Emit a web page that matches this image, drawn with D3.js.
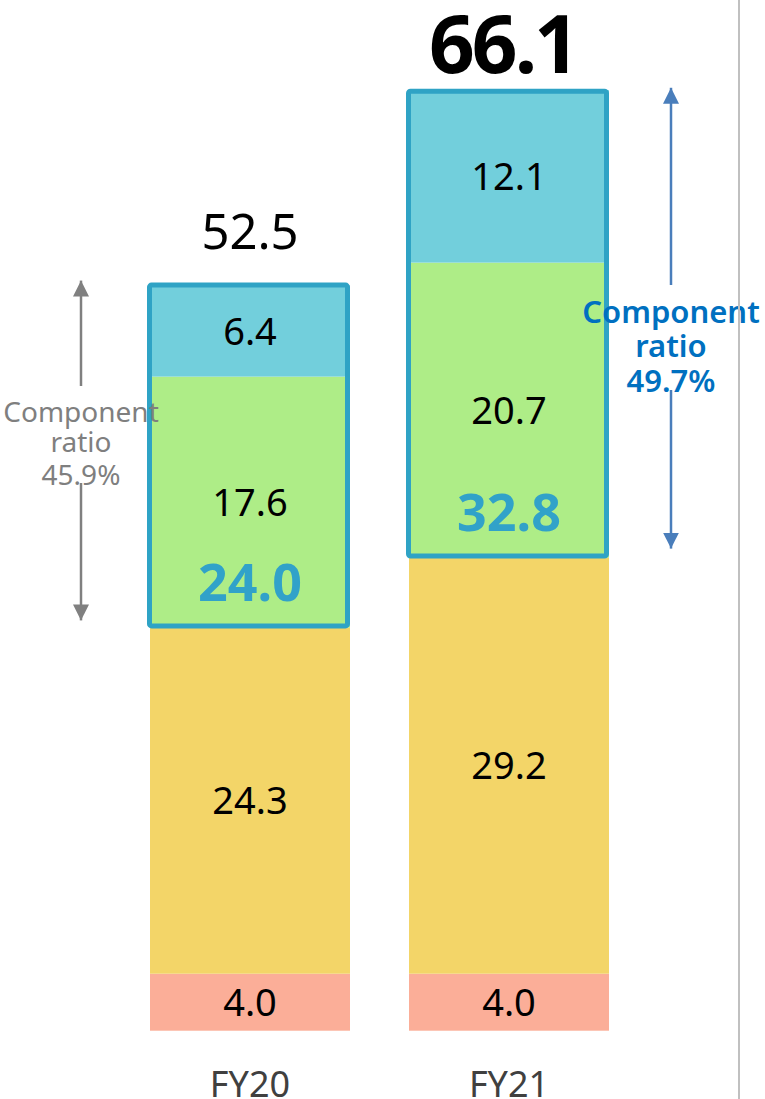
<!DOCTYPE html>
<html>
<head>
<meta charset="utf-8">
<script src="https://cdn.jsdelivr.net/npm/d3@7"></script>
<style>
  html, body { margin: 0; padding: 0; background: #fff; }
  svg { display: block; font-family: "Noto Sans", sans-serif; }
</style>
</head>
<body>
<svg id="chart" width="765" height="1099"></svg>
<script>
// Fiscal years shown
const categories = ["FY20", "FY21"];
// Stacked segments, bottom to top
const baseValues   = [4.0, 4.0];    // salmon
const coreValues   = [24.3, 29.2];  // yellow
const growthValues = [17.6, 20.7];  // green
const topValues    = [6.4, 12.1];   // light blue
// Totals and highlighted sub-totals (green + blue)
const totals          = [52.5, 66.1];
const highlightTotals = [24.0, 32.8];
// Component ratio annotations
const ratioLabels = ["45.9%", "49.7%"];

const seriesKeys = ["base", "core", "growth", "top"];
const seriesVals = { base: baseValues, core: coreValues, growth: growthValues, top: topValues };
const colors = { base: "#fbae98", core: "#f3d568", growth: "#aeed87", top: "#72cfdc" };

const rows = categories.map((c, i) => {
  const r = { cat: c };
  seriesKeys.forEach(k => r[k] = seriesVals[k][i]);
  return r;
});

const svg = d3.select("#chart");

const x = d3.scaleBand().domain(categories).range([150, 609]).paddingInner(0.2278).paddingOuter(0);
const y = d3.scaleLinear().domain([0, 70]).range([1030.7, 1030.7 - 70 * 14.25]);

const stack = d3.stack().keys(seriesKeys);
const layers = stack(rows);

// Bars
const g = svg.append("g");
layers.forEach(layer => {
  g.selectAll(null).data(layer).enter().append("rect")
    .attr("x", d => x(d.data.cat))
    .attr("width", x.bandwidth())
    .attr("y", d => y(d[1]))
    .attr("height", d => y(d[0]) - y(d[1]))
    .attr("fill", colors[layer.key]);
});

// Segment value labels
layers.forEach(layer => {
  g.selectAll(null).data(layer).enter().append("text")
    .attr("x", d => x(d.data.cat) + x.bandwidth() / 2)
    .attr("y", d => (y(d[0]) + y(d[1])) / 2)
    .attr("dy", "0.36em")
    .attr("text-anchor", "middle")
    .attr("font-size", 38)
    .attr("fill", "#000")
    .text(d => d3.format(".1f")(d[1] - d[0]));
});

// Outline around the highlighted (green + blue) block
rows.forEach((r, i) => {
  const top = y(totals[i]);
  const bottom = y(r.base + r.core);
  g.append("rect")
    .attr("x", x(r.cat) - 0.5)
    .attr("width", x.bandwidth() - 2)
    .attr("y", top + 2.5)
    .attr("height", bottom - top - 4)
    .attr("rx", 2)
    .attr("fill", "none")
    .attr("stroke", "#2fa3c5")
    .attr("stroke-width", 5);
  // Highlighted sub-total
  g.append("text")
    .attr("x", x(r.cat) + x.bandwidth() / 2)
    .attr("y", bottom - 45)
    .attr("dy", "0.36em")
    .attr("text-anchor", "middle")
    .attr("font-size", 52)
    .attr("font-weight", 700)
    .attr("fill", "#31a2c9")
    .text(d3.format(".1f")(highlightTotals[i]));
});

// Totals above bars
g.append("text")
  .attr("x", x("FY20") + x.bandwidth() / 2)
  .attr("y", y(totals[0]) - 34)
  .attr("text-anchor", "middle")
  .attr("font-size", 49)
  .attr("fill", "#000")
  .text(d3.format(".1f")(totals[0]));
g.append("text")
  .attr("x", x("FY21") + x.bandwidth() / 2 - 6)
  .attr("y", y(totals[1]) - 16)
  .attr("text-anchor", "middle")
  .attr("font-size", 80)
  .attr("font-weight", 700)
  .attr("letter-spacing", -3)
  .attr("fill", "#000")
  .text(d3.format(".1f")(totals[1]));

// Category labels
g.selectAll(null).data(categories).enter().append("text")
  .attr("x", d => x(d) + x.bandwidth() / 2)
  .attr("y", 1097)
  .attr("text-anchor", "middle")
  .attr("font-size", 36)
  .attr("fill", "#404040")
  .text(d => d);

// Arrow markers
const defs = svg.append("defs");
function marker(id, color) {
  defs.append("marker")
    .attr("id", id)
    .attr("viewBox", "0 0 10 10")
    .attr("refX", 10).attr("refY", 5)
    .attr("markerUnits", "userSpaceOnUse")
    .attr("markerWidth", 16).attr("markerHeight", 16)
    .attr("orient", "auto")
    .append("path").attr("d", "M0,0 L10,5 L0,10 Z").attr("fill", color);
}
marker("arrGray", "#808080");
marker("arrBlue", "#4a7ebb");

function ratioNote(cx, yTop, yBottom, gapTop, gapBottom, lineColor, markerId, textColor, fontSize, weight, baselines, ratio) {
  svg.append("line")
    .attr("x1", cx).attr("x2", cx).attr("y1", gapTop).attr("y2", yTop)
    .attr("stroke", lineColor).attr("stroke-width", 2.5)
    .attr("marker-end", `url(#${markerId})`);
  svg.append("line")
    .attr("x1", cx).attr("x2", cx).attr("y1", gapBottom).attr("y2", yBottom)
    .attr("stroke", lineColor).attr("stroke-width", 2.5)
    .attr("marker-end", `url(#${markerId})`);
  ["Component", "ratio", ratio].forEach((t, k) => {
    svg.append("text")
      .attr("x", cx).attr("y", baselines[k])
      .attr("text-anchor", "middle")
      .attr("font-size", fontSize)
      .attr("font-weight", weight)
      .attr("fill", textColor)
      .text(t);
  });
}

ratioNote(81, y(totals[0]) - 2, y(baseValues[0] + coreValues[0]) - 7, 386, 483,
  "#808080", "arrGray", "#7f7f7f", 28, 400, [422, 452, 485], ratioLabels[0]);
ratioNote(671, y(totals[1]) - 1, y(baseValues[1] + coreValues[1]) - 9, 285, 390,
  "#4a7ebb", "arrBlue", "#0070c0", 31, 600, [323, 357, 392], ratioLabels[1]);

// Right divider
svg.append("line")
  .attr("x1", 739).attr("x2", 739).attr("y1", 0).attr("y2", 1099)
  .attr("stroke", "#c0c0c0").attr("stroke-width", 2);
</script>
</body>
</html>
